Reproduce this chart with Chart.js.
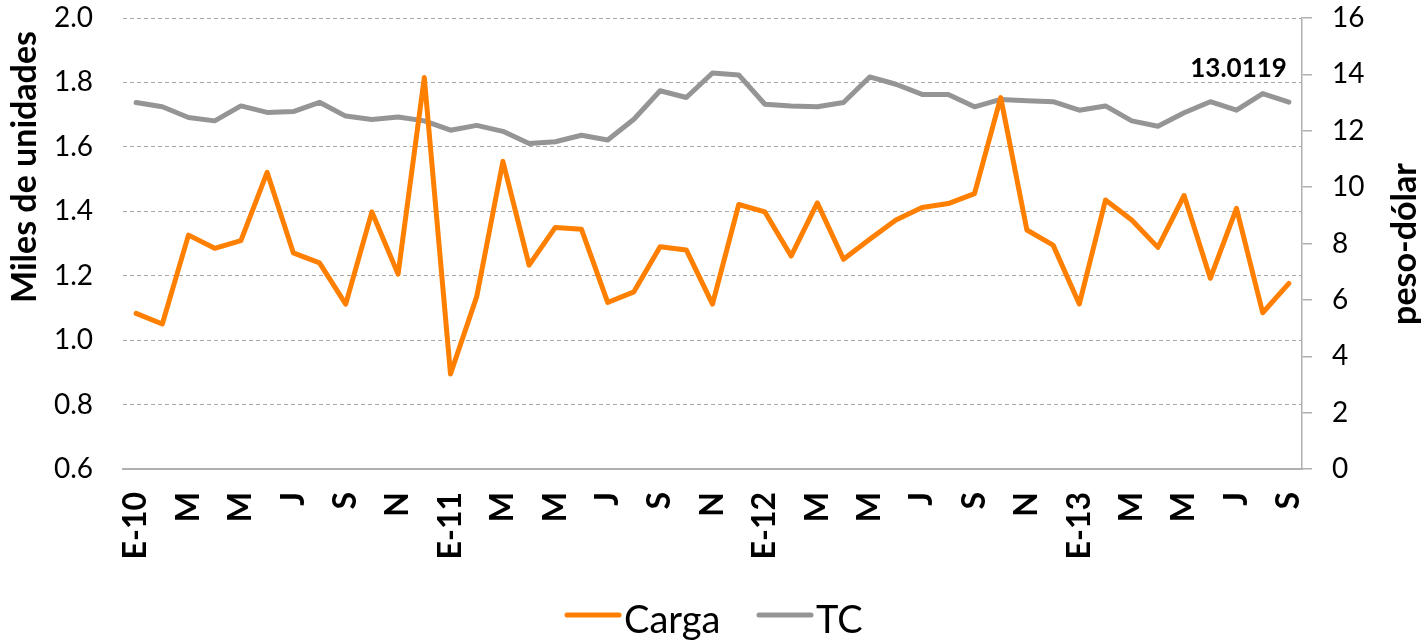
<!DOCTYPE html>
<html>
<head>
<meta charset="utf-8">
<script src="https://cdn.jsdelivr.net/npm/chart.js@4/dist/chart.umd.min.js"></script>
<style>
  html, body { margin: 0; padding: 0; background: #fff; }
  #wrap { width: 1421px; height: 641px; }
</style>
</head>
<body>
<div id="wrap"><canvas id="c" width="1421" height="641"></canvas></div>
<script>
// Months Jan-2010 .. Sep-2013 (Spanish initials); only every other one is labelled
const categories = [
  'E-10','F','M','A','M','J','J','A','S','O','N','D',
  'E-11','F','M','A','M','J','J','A','S','O','N','D',
  'E-12','F','M','A','M','J','J','A','S','O','N','D',
  'E-13','F','M','A','M','J','J','A','S'
];
const carga = [
  1.083,1.050,1.326,1.285,1.309,1.521,1.271,1.240,1.112,1.398,1.205,1.815,
  0.895,1.135,1.555,1.233,1.350,1.344,1.117,1.150,1.290,1.280,1.112,1.421,
  1.398,1.261,1.426,1.251,1.313,1.373,1.412,1.424,1.455,1.753,1.342,1.295,
  1.112,1.435,1.373,1.288,1.449,1.192,1.409,1.085,1.176
];
const tc = [
  13.00,12.85,12.47,12.35,12.88,12.65,12.68,13.01,12.52,12.40,12.49,12.35,
  12.02,12.19,11.98,11.55,11.61,11.84,11.67,12.41,13.42,13.18,14.05,13.98,
  12.94,12.88,12.85,13.00,13.91,13.65,13.29,13.29,12.85,13.11,13.06,13.03,
  12.73,12.88,12.35,12.16,12.64,13.03,12.73,13.32,13.0119
];
const seriesNames = ['Carga', 'TC'];
const lastLabel = '13.0119';
const leftTitle = 'Miles de unidades';
const rightTitle = 'peso-dólar';

const FONT = 'Lato';
const ORANGE = '#FF7F00';
const GREY = '#959595';
const GRID = '#A8A8A8';

const overlay = {
  id: 'overlay',
  afterDraw(chart) {
    const ctx = chart.ctx;
    ctx.save();
    ctx.fillStyle = '#000';
    // axis titles
    ctx.font = 'bold 34px ' + FONT;
    ctx.textAlign = 'center';
    ctx.textBaseline = 'middle';
    ctx.save();
    ctx.translate(25, 167);
    ctx.rotate(-Math.PI / 2);
    ctx.fillText(leftTitle, 0, 0);
    ctx.restore();
    ctx.save();
    ctx.translate(1405, 244);
    ctx.rotate(-Math.PI / 2);
    ctx.fillText(rightTitle, 0, 0);
    ctx.restore();
    // last value label
    const meta = chart.getDatasetMeta(1);
    const pt = meta.data[meta.data.length - 1];
    ctx.font = 'bold 26px ' + FONT;
    ctx.textAlign = 'right';
    ctx.textBaseline = 'alphabetic';
    ctx.fillText(lastLabel, pt.x - 2, pt.y - 25);
    // legend
    const items = [
      { x: 565, color: chart.data.datasets[0].borderColor, text: chart.data.datasets[0].label },
      { x: 757, color: chart.data.datasets[1].borderColor, text: chart.data.datasets[1].label }
    ];
    ctx.font = '38px ' + FONT;
    ctx.textAlign = 'left';
    items.forEach(it => {
      ctx.strokeStyle = it.color;
      ctx.lineWidth = 5;
      ctx.lineCap = 'round';
      ctx.beginPath();
      ctx.moveTo(it.x + 2, 615);
      ctx.lineTo(it.x + 54, 615);
      ctx.stroke();
      ctx.fillStyle = '#000';
      ctx.fillText(it.text, it.x + 59, 633);
    });
    ctx.restore();
  }
};

function noVPad(s) { s.paddingTop = 0; s.paddingBottom = 0; }

new Chart(document.getElementById('c'), {
  type: 'line',
  data: {
    labels: categories,
    datasets: [
      { label: seriesNames[0], data: carga, yAxisID: 'y', borderColor: ORANGE, backgroundColor: ORANGE,
        borderWidth: 5, pointRadius: 0, tension: 0, borderJoinStyle: 'round', borderCapStyle: 'round' },
      { label: seriesNames[1], data: tc, yAxisID: 'y2', borderColor: GREY, backgroundColor: GREY,
        borderWidth: 5, pointRadius: 0, tension: 0, borderJoinStyle: 'round', borderCapStyle: 'round' }
    ]
  },
  options: {
    responsive: false,
    animation: false,
    events: [],
    layout: { padding: { top: 18, left: 0, right: 0, bottom: 0 } },
    plugins: {
      tooltip: { enabled: false },
      legend: { display: false }
    },
    scales: {
      x: {
        offset: true,
        grid: { display: true, drawOnChartArea: false, drawTicks: false },
        border: { display: true, color: '#B0B0B0', width: 2 },
        ticks: {
          autoSkip: false, maxRotation: 90, minRotation: 90, padding: 23,
          color: '#000', font: { family: FONT, size: 32, weight: 'bold' },
          callback: (v, i) => (i % 2 === 0 ? categories[i] : '')
        },
        afterFit(s) { s.height = 172; s.paddingLeft = 0; s.paddingRight = 0; }
      },
      y: {
        position: 'left', min: 0.6, max: 2.0,
        grid: {
          color: (c) => (c.tick && c.tick.value === 0.6 ? 'rgba(0,0,0,0)' : GRID),
          drawTicks: false, lineWidth: 1
        },
        border: { display: false, dash: [4, 3] },
        ticks: {
          stepSize: 0.2, padding: 30, color: '#000',
          font: { family: FONT, size: 28 },
          callback: (v) => Number(v).toFixed(1)
        },
        afterFit(s) { s.width = 123; noVPad(s); }
      },
      y2: {
        position: 'right', min: 0, max: 16,
        grid: { drawOnChartArea: false, drawTicks: true, tickLength: 10, color: '#B0B0B0', lineWidth: 1.5 },
        border: { display: true, color: '#B0B0B0', width: 1.5 },
        ticks: {
          stepSize: 2, padding: 20, color: '#000',
          font: { family: FONT, size: 28 }
        },
        afterFit(s) { s.width = 119; noVPad(s); }
      }
    }
  },
  plugins: [overlay]
});
</script>
</body>
</html>
